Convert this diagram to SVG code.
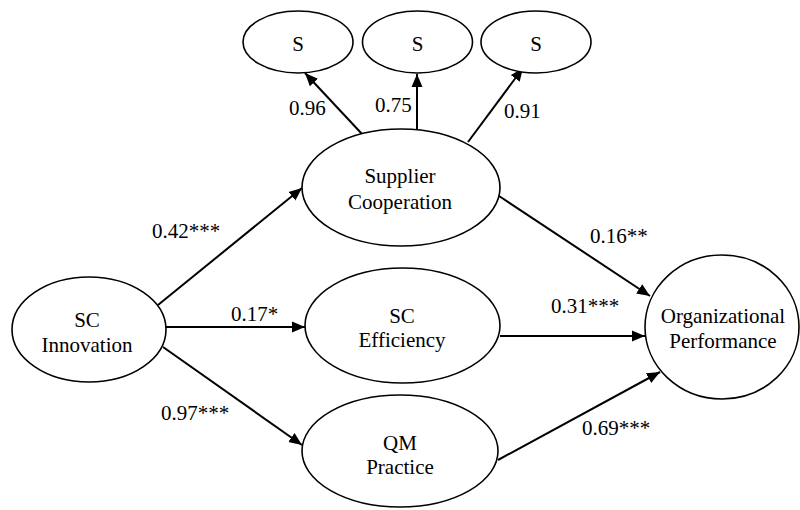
<svg xmlns="http://www.w3.org/2000/svg" width="800" height="510" viewBox="0 0 800 510">
<defs>
<style>
.n{fill:#fff;stroke:#000;stroke-width:1.6}
.t{font-family:"Liberation Serif","Times New Roman",serif;font-size:21px;fill:#000}
.c{text-anchor:middle}
.e{stroke:#000;stroke-width:2;fill:none;marker-end:url(#ah)}
</style>
<marker id="ah" markerUnits="userSpaceOnUse" markerWidth="14" markerHeight="12" refX="13" refY="5.5" orient="auto" viewBox="0 0 14 11">
<path d="M0,0 L13,5.5 L0,11 z" fill="#000"/>
</marker>
</defs>
<rect width="800" height="510" fill="#fff"/>
<g id="connectors">
<line class="e" x1="362" y1="134" x2="305" y2="73"/>
<line class="e" x1="417" y1="129" x2="417" y2="74"/>
<line class="e" x1="468" y1="142" x2="523" y2="68"/>
<line class="e" x1="158" y1="305" x2="302" y2="188"/>
<line class="e" x1="166" y1="327" x2="305" y2="327"/>
<line class="e" x1="163" y1="347" x2="302" y2="445"/>
<line class="e" x1="499" y1="196" x2="650" y2="296"/>
<line class="e" x1="500" y1="336" x2="645" y2="336"/>
<line class="e" x1="498" y1="460" x2="660" y2="372"/>
<text class="t" x="289" y="115">0.96</text>
<text class="t" x="375" y="112">0.75</text>
<text class="t" x="504" y="118">0.91</text>
<text class="t" x="152" y="238">0.42***</text>
<text class="t" x="231" y="321">0.17*</text>
<text class="t" x="161" y="420">0.97***</text>
<text class="t" x="590" y="243">0.16**</text>
<text class="t" x="551" y="313">0.31***</text>
<text class="t" x="582" y="435">0.69***</text>
</g>
<g id="s1"><ellipse class="n" cx="298" cy="42" rx="55" ry="31"/><text class="t c" x="298" y="51">S</text></g>
<g id="s2"><ellipse class="n" cx="417.5" cy="42" rx="55" ry="31"/><text class="t c" x="417.5" y="51">S</text></g>
<g id="s3"><ellipse class="n" cx="536" cy="42" rx="55" ry="31"/><text class="t c" x="536" y="51">S</text></g>
<g id="supplier"><ellipse class="n" cx="401" cy="187.5" rx="99" ry="58.5"/><text class="t c" x="400" y="183">Supplier</text><text class="t c" x="400" y="209">Cooperation</text></g>
<g id="efficiency"><ellipse class="n" cx="402.5" cy="325.5" rx="97.5" ry="57.5"/><text class="t c" x="402" y="323">SC</text><text class="t c" x="402" y="347">Efficiency</text></g>
<g id="qm"><ellipse class="n" cx="400" cy="451" rx="98" ry="56"/><text class="t c" x="400" y="450">QM</text><text class="t c" x="400" y="474">Practice</text></g>
<g id="innovation"><ellipse class="n" cx="89" cy="329.5" rx="77" ry="52.5"/><text class="t c" x="87" y="327">SC</text><text class="t c" x="87" y="352">Innovation</text></g>
<g id="performance"><ellipse class="n" cx="722" cy="327" rx="77" ry="72"/><text class="t c" x="723" y="323">Organizational</text><text class="t c" x="723" y="348">Performance</text></g>
</svg>
